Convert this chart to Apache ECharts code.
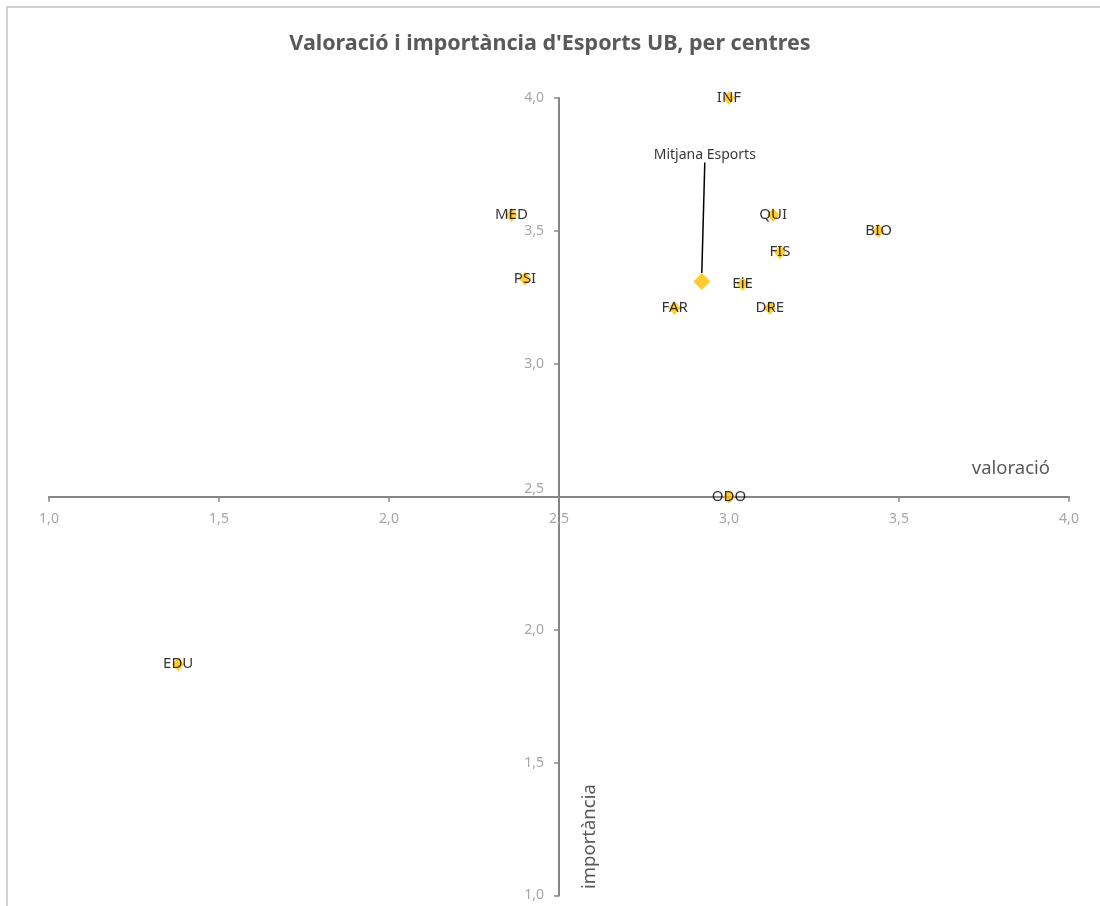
<!DOCTYPE html>
<html>
<head>
<meta charset="utf-8">
<script src="https://cdn.jsdelivr.net/npm/echarts@6/dist/echarts.min.js"></script>
<style>
html,body{margin:0;padding:0;background:#fff;}
#chart{width:1100px;height:906px;}
</style>
</head>
<body>
<div id="chart"></div>
<script>
// Data
const centres     = ['INF', 'MED', 'QUI', 'BIO', 'FIS', 'PSI', 'EiE', 'FAR', 'DRE', 'ODO', 'EDU'];
const valoracio   = [3.00, 2.36, 3.13, 3.44, 3.15, 2.40, 3.04, 2.84, 3.12, 3.00, 1.38];
const importancia = [4.00, 3.56, 3.56, 3.50, 3.42, 3.32, 3.30, 3.21, 3.21, 2.50, 1.87];

const mitjanaName        = 'Mitjana Esports';
const mitjanaValoracio   = [2.92];
const mitjanaImportancia = [3.31];

const axisTicks      = [1.0, 1.5, 2.0, 2.5, 3.0, 3.5, 4.0];
const axisTickLabels = ['1,0', '1,5', '2,0', '2,5', '3,0', '3,5', '4,0'];

const titleText = "Valoració i importància d'Esports UB, per centres";
const xName = 'valoració';
const yName = 'importància';

function tickLabel(v) {
  const i = axisTicks.findIndex(t => Math.abs(t - v) < 1e-9);
  return i >= 0 ? axisTickLabels[i] : '';
}

const FONT = 'Noto Sans';
const gridTop = 98, gridBottom = 10.5, gridLeft = 49, gridRight = 31;
const gridH = 906 - gridTop - gridBottom;
const gridW = 1100 - gridLeft - gridRight;

const chart = echarts.init(document.getElementById('chart'), null, {renderer: 'canvas'});

const centreData = centres.map((c, i) => ({name: c, value: [valoracio[i], importancia[i]]}));
const mitjanaData = mitjanaValoracio.map((v, i) => ({name: mitjanaName, value: [v, mitjanaImportancia[i]]}));

const axisLineStyle = {color: '#868686', width: 2};
const pointLabel = (size) => ({
  show: true, position: 'inside', formatter: '{b}',
  color: '#000000', fontFamily: FONT, fontSize: size,
  textBorderWidth: 0, textBorderColor: 'transparent', textShadowBlur: 0
});

chart.setOption({
  animation: false,
  backgroundColor: '#ffffff',
  title: {
    text: titleText,
    left: 'center',
    top: 28,
    textStyle: {fontFamily: FONT, fontSize: 21.5, fontWeight: 'bold', color: '#595959'}
  },
  grid: {left: gridLeft, right: gridRight, top: gridTop, bottom: gridBottom, containLabel: false},
  xAxis: {
    type: 'value', min: 1, max: 4, interval: 0.5,
    position: 'bottom',
    offset: -gridH / 2,
    axisLine: {show: true, onZero: false, lineStyle: axisLineStyle},
    axisTick: {show: true, length: 5, lineStyle: {color: '#868686', width: 1.5}},
    splitLine: {show: false},
    axisLabel: {
      margin: 15, color: '#a6a6a6', fontFamily: FONT, fontSize: 14,
      formatter: v => tickLabel(v)
    }
  },
  yAxis: {
    type: 'value', min: 1, max: 4, interval: 0.5,
    position: 'left',
    offset: -gridW / 2,
    axisLine: {show: true, onZero: false, lineStyle: axisLineStyle},
    axisTick: {show: true, length: 5, lineStyle: {color: '#868686', width: 1.5}},
    splitLine: {show: false},
    axisLabel: {
      margin: 15, color: '#a6a6a6', fontFamily: FONT, fontSize: 14,
      formatter: v => Math.abs(v - 2.5) < 1e-9 ? '{up|' + tickLabel(v) + '}' : tickLabel(v),
      rich: {up: {color: '#a6a6a6', fontFamily: FONT, fontSize: 14, padding: [0, 0, 16, 0]}}
    }
  },
  graphic: [
    {type: 'rect', shape: {x: 7, y: 7, width: 1200, height: 1000}, style: {fill: 'none', stroke: '#d0d0d0', lineWidth: 2}, silent: true},
    {type: 'text', right: 50, top: 459, style: {text: xName, fontFamily: FONT, fontSize: 18.5, fill: '#595959'}},
    {type: 'text', x: 580, y: 889, rotation: Math.PI / 2, style: {text: yName, fontFamily: FONT, fontSize: 18.5, fill: '#595959', textAlign: 'left', textVerticalAlign: 'top'}}
  ],
  series: [
    {
      type: 'scatter',
      name: 'centres',
      symbol: 'diamond',
      symbolSize: [12, 14],
      itemStyle: {color: '#FFC000'},
      label: pointLabel(15),
      data: centreData,
      z: 3
    },
    {
      type: 'scatter',
      name: mitjanaName,
      symbol: 'diamond',
      symbolSize: 17,
      itemStyle: {color: '#FFC000'},
      label: pointLabel(14),
      labelLayout: {dx: 3, dy: -126},
      labelLine: {show: true, lineStyle: {color: '#000000', width: 1.5}},
      data: mitjanaData,
      z: 3
    }
  ]
});
</script>
</body>
</html>
